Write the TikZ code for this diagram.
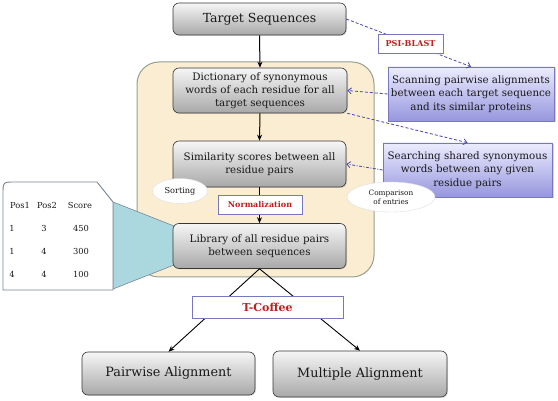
\documentclass[tikz,border=0pt]{standalone}
\usepackage{fontspec}
\setmainfont{DejaVu Serif}
\usetikzlibrary{arrows.meta,shapes.geometric,shadows}
\definecolor{regionfill}{RGB}{251,237,210}
\definecolor{regionline}{RGB}{150,160,145}
\definecolor{boxtop}{RGB}{246,246,246}
\definecolor{boxbot}{RGB}{168,168,168}
\definecolor{boxline}{RGB}{55,55,55}
\definecolor{lavtop}{RGB}{236,236,255}
\definecolor{lavbot}{RGB}{150,150,222}
\definecolor{lavline}{RGB}{120,120,190}
\definecolor{dashblue}{RGB}{70,70,180}
\definecolor{labred}{RGB}{190,30,30}
\definecolor{tealfill}{RGB}{170,216,222}
\definecolor{tableline}{RGB}{120,135,150}
\definecolor{txt}{RGB}{25,25,25}
\tikzset{
  gbox/.style={draw=boxline, line width=0.6pt, rounded corners=6pt, top color=boxtop, bottom color=boxbot,
     text=txt, align=center, inner sep=2pt, drop shadow={opacity=0.25,shadow xshift=1pt,shadow yshift=-1pt}},
  lbox/.style={draw=lavline, line width=0.6pt, top color=lavtop, bottom color=lavbot, text=txt, align=center,
     inner sep=2pt, drop shadow={opacity=0.35,shadow xshift=1.5pt,shadow yshift=-1.5pt},
     font=\fontsize{10.3}{13.5}\selectfont},
  redlab/.style={draw=lavline, fill=white, text=labred, font=\bfseries, inner sep=1pt},
  bluearrow/.style={draw=dashblue, line width=0.8pt, dash pattern=on 3pt off 2pt, -{Straight Barb[length=3.5pt,width=6pt]}},
  blackarrow/.style={draw=black, line width=1pt, -{Stealth[length=6pt,width=5pt]}},
  oval/.style={ellipse, draw=gray!25, fill=white, text=txt, align=center, inner sep=0pt},
  tabtxt/.style={text=txt, font=\fontsize{8.3}{10}\selectfont, inner sep=0pt}
}
\begin{document}
\begin{tikzpicture}[x=1pt,y=-1pt]
\useasboundingbox (0,0) rectangle (558,401);
\fill[white] (0,0) rectangle (558,401);

% big region
\draw[regionline, fill=regionfill, line width=1pt, rounded corners=22pt] (137,62) rectangle (374,277);

% callout
\draw[tableline, fill=tealfill, line width=0.6pt] (113,202) -- (174,226) -- (174,265) -- (113,289) -- cycle;
\draw[tableline, fill=white, line width=0.9pt] (3,290) -- (3,194) .. controls (3,182) .. (15,182) -- (97,182) -- (113,202) -- (113,290) -- cycle;
\node[tabtxt] (h1) at (20,205) {Pos\oldstylenums{1}};
\node[tabtxt] (h2) at (47,205) {Pos\oldstylenums{2}};
\node[tabtxt] (h3) at (80,205) {Score};
\node[tabtxt] (a1) at (12,228) {\oldstylenums{1}};
\node[tabtxt] (a2) at (44,228) {\oldstylenums{3}};
\node[tabtxt] (a3) at (81,228) {\oldstylenums{450}};
\node[tabtxt] (b1) at (12,251) {\oldstylenums{1}};
\node[tabtxt] (b2) at (44,251) {\oldstylenums{4}};
\node[tabtxt] (b3) at (81,251) {\oldstylenums{300}};
\node[tabtxt] (c1) at (12,274) {\oldstylenums{4}};
\node[tabtxt] (c2) at (44,274) {\oldstylenums{4}};
\node[tabtxt] (c3) at (81,274) {\oldstylenums{100}};

% main boxes
\node[gbox, minimum width=173pt, minimum height=32pt, font=\fontsize{12.5}{15}\selectfont] (target) at (259.5,19) {Target Sequences};
\node[gbox, minimum width=174pt, minimum height=45pt, font=\fontsize{10.3}{12.8}\selectfont] (dict) at (260,90.5) {Dictionary of synonymous\\words of each residue for all\\target sequences};
\node[gbox, minimum width=173pt, minimum height=46pt, font=\fontsize{10.3}{13}\selectfont] (sim) at (259.5,164) {Similarity scores between all\\residue pairs};
\node[gbox, minimum width=173pt, minimum height=45pt, font=\fontsize{10.3}{13}\selectfont] (lib) at (259.5,246) {Library of all residue pairs\\between sequences};
\node[gbox, minimum width=173pt, minimum height=43pt, font=\fontsize{12.8}{15}\selectfont] (pair) at (168.5,373.5) {Pairwise Alignment};
\node[gbox, minimum width=174pt, minimum height=46pt, font=\fontsize{12.8}{15}\selectfont] (mult) at (360,374) {Multiple Alignment};

\node[lbox, minimum width=166pt, minimum height=54pt] (scan) at (471,94) {Scanning pairwise alignments\\between each target sequence\\and its similar proteins};
\node[lbox, minimum width=169pt, minimum height=54pt] (search) at (467.5,170) {Searching shared synonymous\\words between any given\\residue pairs};

% black arrows
\draw[blackarrow] (target.south) -- (dict.north);
\draw[blackarrow] (dict.south) -- (sim.north);
\draw[blackarrow] (sim.south) -- (lib.north);
\draw[blackarrow, line width=0.9pt] (lib.south) -- (pair.north);
\draw[blackarrow, line width=0.9pt] (lib.south) -- (mult.north);

% blue dashed arrows
\draw[bluearrow] (target.east) -- (scan.north);
\draw[bluearrow] (scan.west) -- (dict.east);
\draw[bluearrow] (dict.south east) -- (search.north);
\draw[bluearrow, dash pattern=on 3pt off 1.5pt on 1pt off 1.5pt] (search.west) -- (sim.east);

% labels
\node[redlab, minimum width=65pt, minimum height=19pt, font=\fontsize{8.1}{10}\selectfont\bfseries] (psi) at (410.5,43.5) {PSI-BLAST};
\node[redlab, minimum width=84pt, minimum height=19pt, font=\fontsize{8}{10}\selectfont\bfseries] (norm) at (260,204.5) {Normalization};
\node[redlab, minimum width=151pt, minimum height=22pt, font=\fontsize{11}{13}\selectfont\bfseries] (tcof) at (267.5,307) {T-Coffee};

\node[oval, minimum width=55pt, minimum height=25pt, font=\fontsize{8.2}{10}\selectfont] (sort) at (180,191) {Sorting};
\node[oval, minimum width=88pt, minimum height=30pt, font=\fontsize{7.3}{9}\selectfont] (comp) at (391,197) {Comparison\\of entries};
\end{tikzpicture}
\end{document}
